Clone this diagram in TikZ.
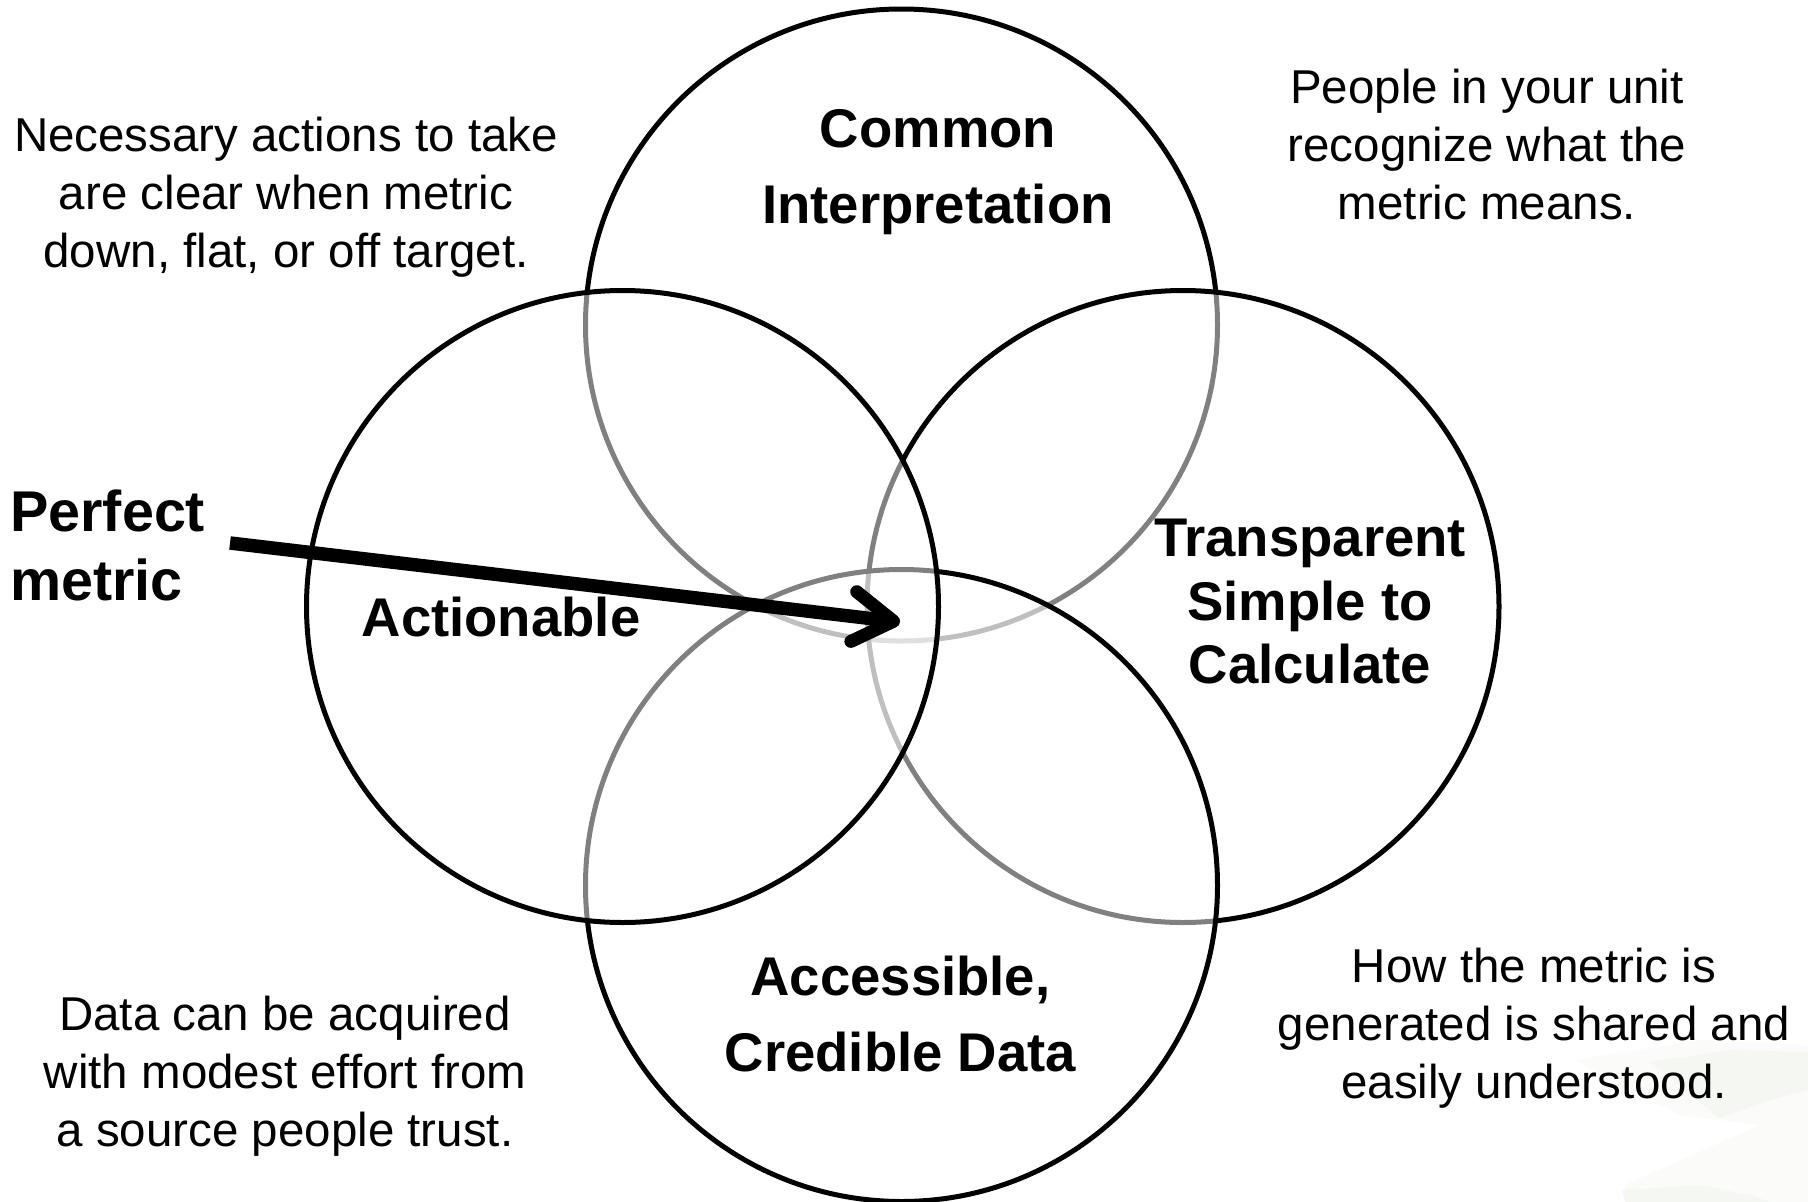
\documentclass[tikz,border=0pt]{standalone}
\usepackage{fontspec}
\setmainfont{Liberation Sans}
\usetikzlibrary{arrows.meta}
\tikzset{
  ring/.style={circle,draw=black,line width=5pt,fill=white,fill opacity=0.5,draw opacity=1,minimum size=632pt,inner sep=0pt},
  note/.style={align=center,inner sep=0pt,font=\fontsize{47.5}{58}\selectfont},
  head/.style={align=center,inner sep=0pt,font=\fontsize{54.5}{76}\selectfont\bfseries},
  headtight/.style={align=center,inner sep=0pt,font=\fontsize{54.5}{63.5}\selectfont\bfseries},
  pointer/.style={line width=13.5pt,-{Straight Barb[length=40pt,width=50pt,line width=13pt,round]}},
}
\definecolor{leaf}{RGB}{245,248,242}
\definecolor{leafpale}{RGB}{251,252,250}
\begin{document}
\begin{tikzpicture}[x=1pt,y=-1pt]
\useasboundingbox (0,0) rectangle (1808,1202);
\fill[white] (0,0) rectangle (1808,1202);
% faint watermark
\fill[leafpale] (1575,1060) -- (1700,1040) -- (1808,1045) -- (1808,1202) -- (1625,1202) -- (1625,1185) -- (1760,1125) -- (1680,1115) -- cycle;
\fill[leaf] (1650,1062) -- (1730,1050) -- (1808,1052) -- (1808,1090) -- (1770,1100) -- (1720,1118) -- (1690,1095) -- cycle;
\fill[leaf] (1622,1190) -- (1700,1185) -- (1750,1195) -- (1770,1202) -- (1625,1202) -- cycle;
% rings, bottom to top
\node[ring] (common) at (901.5,325) {};
\node[ring] (transparent) at (1183,606.5) {};
\node[ring] (accessible) at (901.5,885.5) {};
\node[ring] (actionable) at (622.5,606.5) {};
% labels
\node[head] (tcommon) at (938,172) {Common\\Interpretation};
\node[head] (taction) at (501,617) {Actionable};
\node[headtight] (ttrans) at (1310,602) {Transparent\\Simple to\\Calculate};
\node[head] (taccess) at (900.5,1014) {Accessible,\\Credible Data};
\node[note] (nact) at (286,197) {Necessary actions to take\\are clear when metric\\down, flat, or off target.};
\node[note] (npeople) at (1487,145) {People in your unit\\recognize what the\\metric means.};
\node[note] (ndata) at (285,1076) {Data can be acquired\\with modest effort from\\a source people trust.};
\node[note] (nhow) at (1534,1028) {How the metric is\\generated is shared and\\easily understood.};
\node[align=left,inner sep=0pt,font=\fontsize{57.5}{69}\selectfont\bfseries,anchor=west] (perfect) at (10,545) {Perfect\\metric};
% arrow
\coordinate (ptail) at (230,543);
\coordinate (ptip) at (900,622);
\draw[pointer] (ptail) -- (ptip);
\end{tikzpicture}
\end{document}
